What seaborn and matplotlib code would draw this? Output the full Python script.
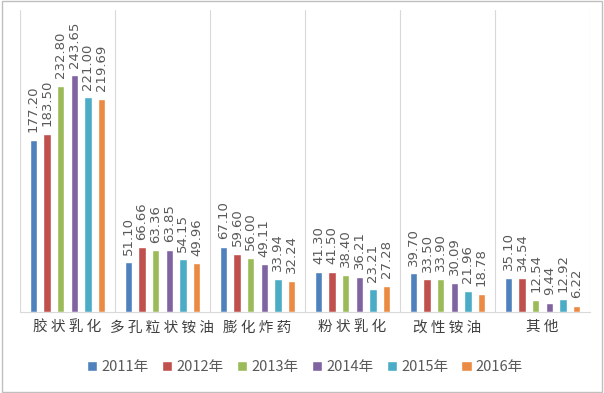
import pandas as pd
import numpy as np
import matplotlib.pyplot as plt
import seaborn as sns

# data
categories = ["胶状乳化", "多孔粒状铵油", "膨化炸药", "粉状乳化", "改性铵油", "其他"]
years = ["2011年", "2012年", "2013年", "2014年", "2015年", "2016年"]
v2011 = [177.20, 51.10, 67.10, 41.30, 39.70, 35.10]
v2012 = [183.50, 66.66, 59.60, 41.50, 33.50, 34.54]
v2013 = [232.80, 63.36, 56.00, 38.40, 33.90, 12.54]
v2014 = [243.65, 63.85, 49.11, 36.21, 30.09, 9.44]
v2015 = [221.00, 54.15, 33.94, 23.21, 21.96, 12.92]
v2016 = [219.69, 49.96, 32.24, 27.28, 18.78, 6.22]

series = [v2011, v2012, v2013, v2014, v2015, v2016]
rows = []
for yr, vals in zip(years, series):
    for cat, v in zip(categories, vals):
        rows.append({"category": cat, "year": yr, "value": v})
df = pd.DataFrame(rows)

colors = ["#4F81BD", "#C0504D", "#9BBB59", "#8064A2", "#4BACC6", "#EB8A42"]

sns.set_style("white")
plt.rcParams["font.family"] = ["Noto Sans CJK SC", "DejaVu Sans"]

fig = plt.figure(figsize=(6.04, 3.93), dpi=100)
ax = fig.add_axes([20 / 604, 81 / 393, 570 / 604, 302 / 393])

sns.barplot(data=df, x="category", y="value", hue="year", palette=colors,
            saturation=1, width=0.86, gap=0.45, ax=ax, legend=True)

# value labels
for cont in ax.containers:
    for bar in cont:
        h = bar.get_height()
        ax.text(bar.get_x() + bar.get_width() / 2, h + 8, f"{h:.2f}",
                rotation=90, ha="center", va="bottom", fontsize=9.5,
                color="#595959", family="DejaVu Sans")

ax.set_ylim(0, 311)
ax.set_xlim(-0.5, len(categories) - 0.5)
ax.set_yticks([])
ax.set_xlabel("")
ax.set_ylabel("")

# vertical separators between categories
for i in range(len(categories) + 1):
    ax.axvline(i - 0.5, color="#D9D9D9", lw=0.8, zorder=0)

ax.set_xticks(range(len(categories)))
ax.set_xticklabels([" ".join(c) for c in categories], fontsize=10.5, color="#404040")
ax.tick_params(axis="x", length=0, pad=6)
for s in ["top", "left", "right"]:
    ax.spines[s].set_visible(False)
ax.spines["bottom"].set_color("#D9D9D9")

leg = ax.legend(loc="upper center", bbox_to_anchor=(0.5, -0.115), ncol=6,
                frameon=False, fontsize=10.5, handlelength=0.7, handleheight=0.7,
                handletextpad=0.3, columnspacing=0.9)
for t in leg.get_texts():
    t.set_color("#595959")

# outer frame
fig.patches.append(plt.Rectangle((0.003, 0.003), 0.994, 0.994, transform=fig.transFigure,
                                 fill=False, edgecolor="#BFBFBF", lw=1))

fig.savefig("out.png", dpi=100)
